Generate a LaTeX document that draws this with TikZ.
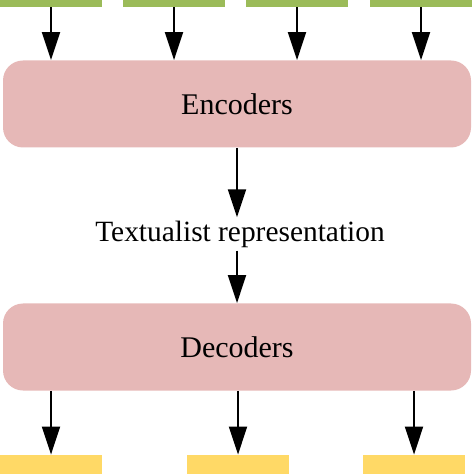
\documentclass[tikz,border=0pt]{standalone}
\usepackage{fontspec}
\setmainfont{Liberation Serif}
\usetikzlibrary{arrows.meta,positioning,calc}
\definecolor{inputgreen}{HTML}{9BBB59}
\definecolor{blockpink}{HTML}{E6B8B7}
\definecolor{outputyellow}{HTML}{FFD966}

\begin{document}
\begin{tikzpicture}[x=0.5pt,y=-0.5pt,
  inbar/.style={fill=inputgreen, minimum width=51pt, minimum height=7pt, inner sep=0pt},
  outbar/.style={fill=outputyellow, minimum width=51pt, minimum height=13pt, inner sep=0pt},
  block/.style={fill=blockpink, rounded corners=10pt, minimum width=234pt, minimum height=43.5pt,
    inner sep=0pt, font=\fontsize{15}{17}\selectfont},
  label/.style={inner sep=1.5pt, font=\fontsize{14.7}{17}\selectfont},
  flow/.style={-{Triangle[length=14pt,width=9pt]}, line width=1pt}]
  \useasboundingbox (0,0) rectangle (474,474);
  \clip (0,0) rectangle (474,474);
  %the two blocks
  \node[block] (enc) at (237,104) {Encoders};
  \node[block] (dec) at (237,347) {Decoders};
  %text between them
  \node[label] (rep) at (240,234) {Textualist representation};
  %inputs on top
  \foreach \x [count=\i] in {51,174,297,421}{
    \node[inbar] (in\i) at (\x,0) {};
    \draw[flow] (in\i.south) -- (in\i.south |- enc.north);
  }
  %outputs at the bottom
  \foreach \x [count=\i] in {51,238,414}{
    \node[outbar] (out\i) at (\x,468) {};
    \draw[flow] (out\i.north |- dec.south) -- (out\i.north);
  }
  %middle arrows
  \draw[flow] (enc.south) -- (enc.south |- rep.north);
  \draw[flow] (dec.north |- rep.south) -- (dec.north);
\end{tikzpicture}
\end{document}
